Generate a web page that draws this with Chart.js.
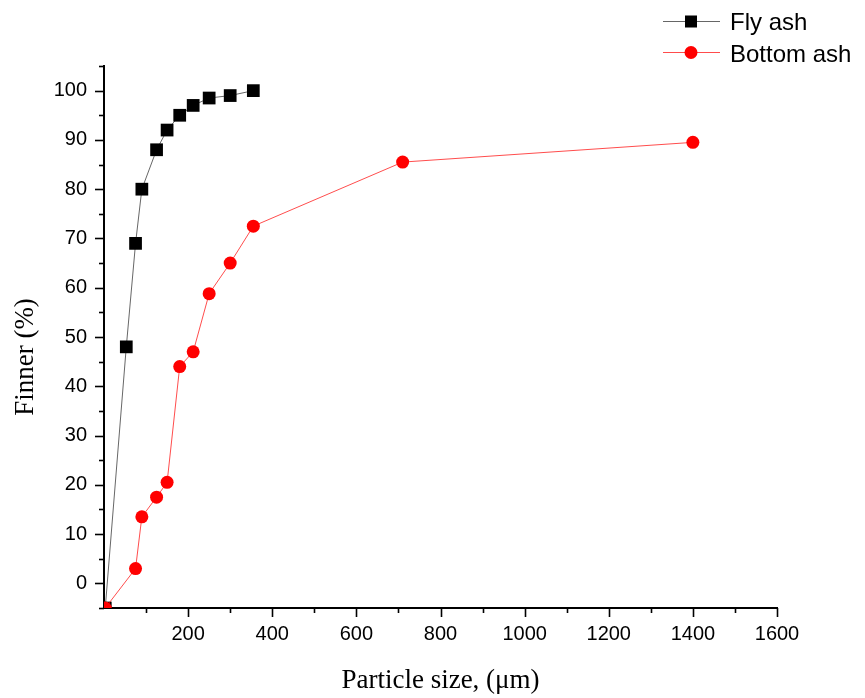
<!DOCTYPE html>
<html>
<head>
<meta charset="utf-8">
<script src="https://cdn.jsdelivr.net/npm/chart.js@4.4.1/dist/chart.umd.min.js"></script>
<style>
html,body{margin:0;padding:0;background:#fff;}
#wrap{width:865px;height:698px;position:relative;}
</style>
</head>
<body>
<div id="wrap"><canvas id="c"></canvas></div>
<script>
// Data
const flySizes    = [3, 53, 75, 90, 125, 150, 180, 212, 250, 300, 355];
const flyFiner    = [-5, 48, 69, 80, 88, 92, 95, 97, 98.5, 99, 100];
const bottomSizes = [3, 75, 90, 125, 150, 180, 212, 250, 300, 355, 710, 1400];
const bottomFiner = [-5, 3, 13.5, 17.5, 20.5, 44, 47, 58.8, 65, 72.5, 85.5, 89.5];
const seriesNames = ['Fly ash', 'Bottom ash'];
const xTitle = 'Particle size, (\u03bcm)';
const yTitle = 'Finner (%)';

const toPts = (xs, ys) => xs.map((x, i) => ({x: x, y: ys[i]}));

const tickPlugin = {
  id: 'minorMajorTicks',
  afterDraw(chart) {
    const ctx = chart.ctx;
    const xs = chart.scales.x, ys = chart.scales.y;
    ctx.save();
    ctx.strokeStyle = '#000';
    ctx.lineWidth = 1.6;
    xs.ticks.forEach(t => {
      if (t.value === 0) return;
      const px = Math.round(xs.getPixelForValue(t.value)) + 0.5;
      const len = (t.value % 200 === 0) ? 9 : 5;
      ctx.beginPath();
      ctx.moveTo(px, chart.chartArea.bottom);
      ctx.lineTo(px, chart.chartArea.bottom + len);
      ctx.stroke();
    });
    ys.ticks.forEach(t => {
      const py = Math.round(ys.getPixelForValue(t.value)) + 0.5;
      const len = (t.value % 10 === 0) ? 9 : 5;
      ctx.beginPath();
      ctx.moveTo(chart.chartArea.left, py);
      ctx.lineTo(chart.chartArea.left - len, py);
      ctx.stroke();
    });
    ctx.restore();
  }
};

const yTitlePlugin = {
  id: 'yTitle',
  afterDraw(chart) {
    const ctx = chart.ctx;
    ctx.save();
    ctx.translate(26, 357);
    ctx.rotate(-Math.PI / 2);
    ctx.fillStyle = '#000';
    ctx.font = '27px "Liberation Serif", "Times New Roman", serif';
    ctx.textAlign = 'center';
    ctx.textBaseline = 'middle';
    ctx.fillText(yTitle, 0, 0);
    ctx.restore();
  }
};

const legendPlugin = {
  id: 'customLegend',
  afterDraw(chart) {
    const ctx = chart.ctx;
    ctx.save();
    // Fly ash
    ctx.strokeStyle = 'rgba(0,0,0,0.6)';
    ctx.lineWidth = 1;
    ctx.beginPath(); ctx.moveTo(663, 21.5); ctx.lineTo(720, 21.5); ctx.stroke();
    ctx.fillStyle = '#000';
    ctx.fillRect(685, 15.5, 12, 12);
    // Bottom ash
    ctx.strokeStyle = 'rgba(255,0,0,0.7)';
    ctx.beginPath(); ctx.moveTo(663, 52.5); ctx.lineTo(720, 52.5); ctx.stroke();
    ctx.fillStyle = '#ff0000';
    ctx.beginPath(); ctx.arc(691, 52.5, 6.5, 0, Math.PI * 2); ctx.fill();
    ctx.fillStyle = '#000';
    ctx.font = '24px "Liberation Sans", Arial, sans-serif';
    ctx.textBaseline = 'alphabetic';
    ctx.textAlign = 'left';
    ctx.fillText(seriesNames[0], 730, 30);
    ctx.fillText(seriesNames[1], 730, 62);
    ctx.restore();
  }
};

new Chart(document.getElementById('c'), {
  type: 'scatter',
  data: {
    datasets: [
      {
        label: seriesNames[0],
        data: toPts(flySizes, flyFiner),
        showLine: true,
        borderColor: 'rgba(0,0,0,0.6)',
        borderWidth: 1,
        backgroundColor: '#000',
        pointStyle: 'rect',
        pointRadius: 9,
        pointHoverRadius: 9,
        pointBorderWidth: 0,
        clip: 0,
        order: 1
      },
      {
        label: seriesNames[1],
        data: toPts(bottomSizes, bottomFiner),
        showLine: true,
        borderColor: 'rgba(255,0,0,0.7)',
        borderWidth: 1,
        backgroundColor: '#ff0000',
        pointStyle: 'circle',
        pointRadius: 6.5,
        pointHoverRadius: 6.5,
        pointBorderWidth: 0,
        clip: 0,
        order: 0
      }
    ]
  },
  options: {
    responsive: true,
    maintainAspectRatio: false,
    animation: false,
    devicePixelRatio: 1,
    layout: { padding: { left: 0, right: 88, top: 66, bottom: 0 } },
    plugins: { legend: { display: false }, tooltip: { enabled: false } },
    scales: {
      x: {
        type: 'linear',
        min: 0, max: 1600,
        afterFit: s => { s.height = 90; },
        border: { display: true, color: '#000', width: 2 },
        grid: { display: true, drawOnChartArea: false, drawTicks: false },
        ticks: {
          stepSize: 100,
          autoSkip: false,
          maxRotation: 0,
          padding: 14,
          color: '#000',
          font: { family: '"Liberation Sans", Arial, sans-serif', size: 20 },
          callback: v => (v % 200 === 0 && v > 0) ? String(v) : ''
        },
        title: {
          display: true,
          text: xTitle,
          color: '#000',
          font: { family: '"Liberation Serif", "Times New Roman", serif', size: 27 },
          padding: { top: 0, bottom: 1 }
        }
      },
      y: {
        type: 'linear',
        min: -5, max: 105,
        afterFit: s => { s.width = 104; },
        border: { display: true, color: '#000', width: 2 },
        grid: { display: true, drawOnChartArea: false, drawTicks: false },
        ticks: {
          stepSize: 5,
          autoSkip: false,
          padding: 17,
          color: '#000',
          font: { family: '"Liberation Sans", Arial, sans-serif', size: 20 },
          callback: v => (v % 10 === 0) ? String(v) : ''
        },
        title: { display: false }
      }
    }
  },
  plugins: [tickPlugin, yTitlePlugin, legendPlugin]
});
</script>
</body>
</html>
